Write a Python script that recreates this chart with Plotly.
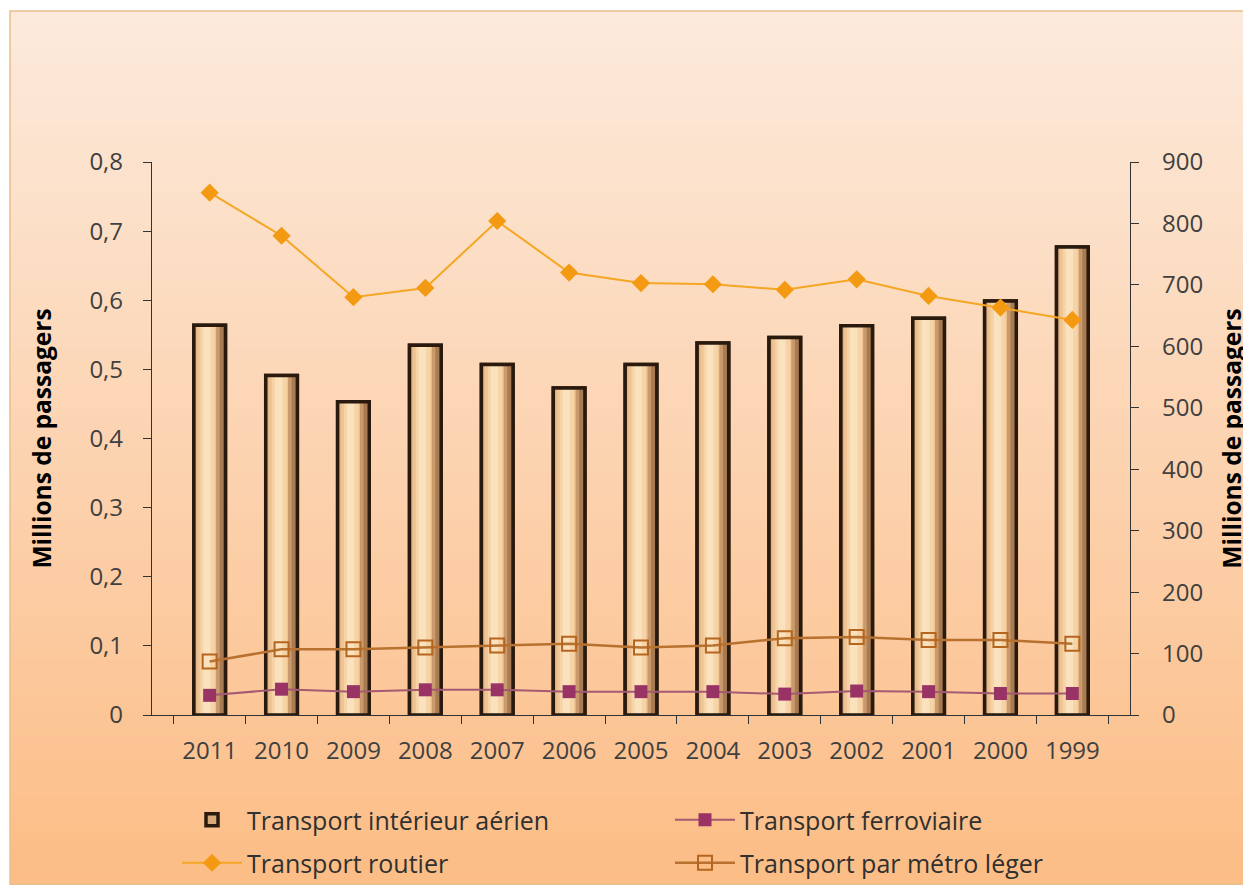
import plotly.graph_objects as go

years = ["2011", "2010", "2009", "2008", "2007", "2006", "2005", "2004", "2003", "2002", "2001", "2000", "1999"]
aerien = [0.564, 0.491, 0.453, 0.535, 0.507, 0.473, 0.507, 0.538, 0.546, 0.563, 0.574, 0.599, 0.677]
ferroviaire = [32, 42, 38, 41, 41, 38, 38, 38, 34, 39, 38, 35, 35]
routier = [850, 780, 680, 695, 804, 720, 703, 701, 692, 709, 682, 663, 643]
metro = [87, 107, 107, 110, 113, 116, 110, 113, 125, 127, 122, 122, 116]

left_ticks = [0, 0.1, 0.2, 0.3, 0.4, 0.5, 0.6, 0.7, 0.8]
left_labels = ["0", "0,1", "0,2", "0,3", "0,4", "0,5", "0,6", "0,7", "0,8"]
right_ticks = [0, 100, 200, 300, 400, 500, 600, 700, 800, 900]

FONT = "Open Sans"
OFF = 8  # page body margin
W, H = 1251 - OFF, 886 - OFF
ML = 152 - OFF
MT = 162 - OFF
MR = W - (1130 - OFF)
MB = H - (715 - OFF)
PW, PH = W - ML - MR, H - MT - MB


def px_x(p):  # target screenshot pixel -> paper coord
    return (p - OFF - ML) / PW


def px_y(p):
    return (MT + PH - (p - OFF)) / PH


fig = go.Figure()

# background gradient (shapes)
shapes = []
n = 70
top_c = (252, 234, 220)
bot_c = (252, 189, 134)
y_top_px, y_bot_px = 11, 884
for i in range(n):
    a = i / (n - 1)
    c = tuple(round(top_c[k] + (bot_c[k] - top_c[k]) * a) for k in range(3))
    y0p = y_top_px + (y_bot_px - y_top_px) * i / n
    y1p = y_top_px + (y_bot_px - y_top_px) * (i + 1) / n + 1
    shapes.append(dict(type="rect", xref="paper", yref="paper", layer="below",
                       x0=px_x(10), x1=px_x(1247), y0=px_y(y0p), y1=px_y(y1p),
                       fillcolor="rgb(%d,%d,%d)" % c, line=dict(width=0)))
shapes.append(dict(type="rect", xref="paper", yref="paper", layer="below",
                   x0=px_x(10), x1=px_x(1247), y0=px_y(11), y1=px_y(884),
                   fillcolor="rgba(0,0,0,0)", line=dict(color="#E8BE8A", width=1.5)))

# bars: base + shading strips + outline
fig.add_trace(go.Bar(x=years, y=aerien, name="Transport intérieur aérien", width=0.44,
                     marker=dict(color="#D8A978", line=dict(color="#2A1A0E", width=3.5)),
                     legend="legend", hoverinfo="x+y"))
strips = [(-0.20, 0.40, "#E4B789"), (-0.17, 0.30, "#EFC595"), (-0.13, 0.20, "#F7D4A7"),
          (-0.09, 0.10, "#FBE2BE"), (0.09, 0.11, "#C99A6B"), (0.14, 0.06, "#A87B52")]
for off, w, col in strips:
    fig.add_trace(go.Bar(x=years, y=aerien, offset=off, width=w, showlegend=False,
                         marker=dict(color=col, line=dict(width=0)), hoverinfo="skip"))
fig.add_trace(go.Bar(x=years, y=aerien, width=0.44, showlegend=False, hoverinfo="skip",
                     marker=dict(color="rgba(0,0,0,0)", line=dict(color="#2A1A0E", width=3.5))))

fig.add_trace(go.Scatter(x=years, y=ferroviaire, name="Transport ferroviaire", yaxis="y2",
                         mode="lines+markers", legend="legend2",
                         line=dict(color="#A45A72", width=2),
                         marker=dict(symbol="square", size=13, color="#993366")))
fig.add_trace(go.Scatter(x=years, y=routier, name="Transport routier", yaxis="y2",
                         mode="lines+markers", legend="legend3",
                         line=dict(color="#F5A623", width=2),
                         marker=dict(symbol="diamond", size=14, color="#F39A12")))
fig.add_trace(go.Scatter(x=years, y=metro, name="Transport par métro léger", yaxis="y2",
                         mode="lines+markers", legend="legend4",
                         line=dict(color="#B8712E", width=2.5),
                         marker=dict(symbol="square-open", size=14, color="#B5651D",
                                     line=dict(width=2))))

axis_font = dict(family=FONT, size=24, color="#404040")
title_font = dict(family=FONT, size=24.5, color="#000000")
leg_common = dict(orientation="h", xanchor="left", yanchor="middle", bgcolor="rgba(0,0,0,0)",
                  font=dict(family=FONT, size=25, color="#303030"), itemwidth=60)

COL1, COL2 = 177, 670
ROW1, ROW2 = 820, 863

fig.update_layout(
    width=W, height=H, margin=dict(l=ML, r=MR, t=MT, b=MB, autoexpand=False),
    paper_bgcolor="white", plot_bgcolor="rgba(0,0,0,0)",
    barmode="overlay", shapes=shapes,
    font=dict(family=FONT),
    xaxis=dict(type="category", showline=True, linecolor="#333333", linewidth=1.3,
               ticks="outside", tickson="boundaries", ticklen=8, tickcolor="#333333",
               tickfont=axis_font, showgrid=False, zeroline=False, ticklabelstandoff=14),
    yaxis=dict(range=[0, 0.8], tickvals=left_ticks, ticktext=left_labels, showline=True,
               linecolor="#333333", linewidth=1.3, ticks="outside", ticklen=8,
               tickcolor="#333333", tickfont=axis_font, showgrid=False, zeroline=False,
               ticklabelstandoff=15,
               title=dict(text="<b>Millions de passagers</b>", standoff=30, font=title_font)),
    yaxis2=dict(range=[0, 900], tickvals=right_ticks, overlaying="y", side="right",
                showline=True, linecolor="#333333", linewidth=1.3, ticks="outside",
                ticklen=8, tickcolor="#333333", tickfont=axis_font, showgrid=False,
                zeroline=False, ticklabelstandoff=18,
                title=dict(text="<b>Millions de passagers</b>", standoff=21, font=title_font)),
    legend=dict(x=px_x(COL1), y=px_y(ROW1), **leg_common),
    legend2=dict(x=px_x(COL2), y=px_y(ROW1), **leg_common),
    legend3=dict(x=px_x(COL1), y=px_y(ROW2), **leg_common),
    legend4=dict(x=px_x(COL2), y=px_y(ROW2), **leg_common),
)

fig.write_html("out.html")
